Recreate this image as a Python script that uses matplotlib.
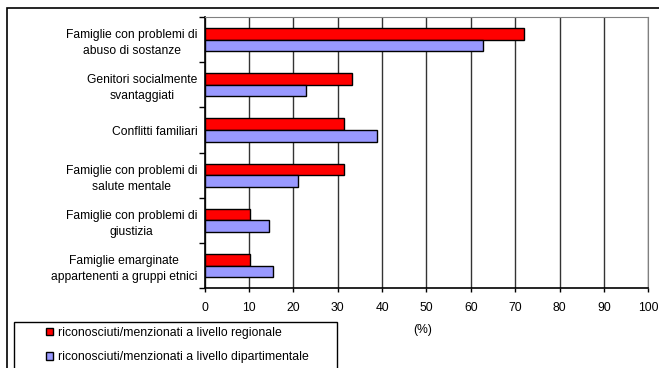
import numpy as np
import matplotlib
matplotlib.use("Agg")
import matplotlib.pyplot as plt
from matplotlib.patches import Rectangle

plt.rcParams['font.family'] = ['Liberation Sans', 'DejaVu Sans']

# data (%)
categories = [
    "Famiglie con problemi di\nabuso di sostanze",
    "Genitori socialmente\nsvantaggiati",
    "Conflitti familiari",
    "Famiglie con problemi di\nsalute mentale",
    "Famiglie con problemi di\ngiustizia",
    "Famiglie emarginate\nappartenenti a gruppi etnici",
]
regionale = [72.1, 33.2, 31.5, 31.5, 10.3, 10.3]
dipartimentale = [62.7, 22.8, 38.9, 21.1, 14.6, 15.4]
series_names = ["riconosciuti/menzionati a livello regionale",
                "riconosciuti/menzionati a livello dipartimentale"]
xticks = list(range(0, 101, 10))

W, H = 659, 368
fig = plt.figure(figsize=(W / 100, H / 100), dpi=100)

# outer frame of the chart area
fig.patches.append(Rectangle((7 / W, -0.1), 1.2, 1 - 8 / H + 0.1,
                             transform=fig.transFigure, fill=False,
                             edgecolor='black', lw=1.2))

ax = fig.add_axes([204.5 / W, 1 - 288.3 / H, 443.8 / W, (288.3 - 17) / H])

y = np.arange(len(categories))
h = 0.258
b1 = ax.barh(y - h / 2, regionale, height=h, color='#ff0000',
             edgecolor='black', lw=1, zorder=3, label=series_names[0])
b2 = ax.barh(y + h / 2, dipartimentale, height=h, color='#9999ff',
             edgecolor='black', lw=1, zorder=3, label=series_names[1])

ax.set_xlim(0, 100)
ax.set_ylim(len(categories) - 0.5, -0.5)
ax.set_xticks(xticks)
ax.set_xticklabels([str(t) for t in xticks], fontsize=8.7)
ax.tick_params(axis='x', direction='out', length=3, pad=7, width=1)

ax.set_yticks(y)
ax.set_yticklabels(categories, fontsize=8.7, linespacing=1.45)
for lab in ax.get_yticklabels():
    lab.set_multialignment('center')
ax.tick_params(axis='y', which='major', length=0, pad=5)
ax.set_yticks(np.arange(-0.5, len(categories)), minor=True)
ax.tick_params(axis='y', which='minor', direction='out', length=4, width=1)

ax.grid(axis='x', color='#333333', lw=1, zorder=0)
for s in ['top', 'right']:
    ax.spines[s].set_color('#808080')
for s in ['left', 'bottom']:
    ax.spines[s].set_color('black')
    ax.spines[s].set_linewidth(1.2)

fig.text(422.7 / W, 1 - 330 / H, "(%)", fontsize=8.7, ha='center', va='center')

# legend box
fig.patches.append(Rectangle((14 / W, -0.1), (337 - 14) / W, 1 - 321.7 / H + 0.1,
                             transform=fig.transFigure, fill=False,
                             edgecolor='black', lw=1))
fig.legend(handles=[b1, b2], loc='upper left',
           bbox_to_anchor=(46 / W, 1 - 327 / H), frameon=False,
           fontsize=8.8, handlelength=0.56, handleheight=0.56,
           handletextpad=0.45, labelspacing=1.0, borderpad=0,
           borderaxespad=0)

fig.savefig("out.png", dpi=100)
